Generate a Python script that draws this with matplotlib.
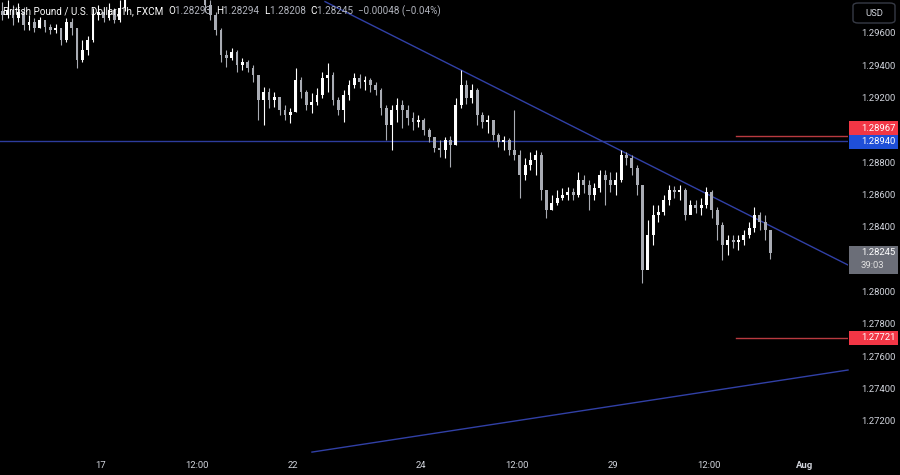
import numpy as np
import matplotlib
matplotlib.use("Agg")
import matplotlib.pyplot as plt
from matplotlib.patches import Rectangle, FancyBboxPatch

# GBPUSD, candles drawn every 2 hours (hours counted from 17 Jul 00:00, weekends removed)
first_open = 1.29740
closes = [1.29717, 1.29748, 1.29699, 1.29736, 1.29655, 1.29674, 1.29637, 1.29686, 1.29643, 1.29624,
          1.29637, 1.29562, 1.29674, 1.29637, 1.29439, 1.29500, 1.29562, 1.29717, 1.29736, 1.29699,
          1.29748, 1.29686, 1.29760, 1.29950, 1.30100, 1.30250, 1.30400, 1.30350, 1.30200, 1.30300,
          1.30150, 1.30050, 1.30000, 1.30100, 1.29950, 1.30000, 1.29900, 1.29950, 1.29779, 1.29717,
          1.29624, 1.29470, 1.29451, 1.29488, 1.29408, 1.29426, 1.29389, 1.29346, 1.29191, 1.29241,
          1.29191, 1.29210, 1.29129, 1.29098, 1.29117, 1.29315, 1.29241, 1.29160, 1.29179, 1.29222,
          1.29327, 1.29346, 1.29191, 1.29129, 1.29222, 1.29284, 1.29327, 1.29302, 1.29315, 1.29284,
          1.29253, 1.29141, 1.29036, 1.29129, 1.29160, 1.29129, 1.29080, 1.29055, 1.29067, 1.29005,
          1.28962, 1.28894, 1.28881, 1.28943, 1.28912, 1.29160, 1.29284, 1.29203, 1.29253, 1.29098,
          1.29055, 1.29067, 1.28974, 1.28931, 1.28943, 1.28881, 1.28851, 1.28727, 1.28789, 1.28820,
          1.28851, 1.28634, 1.28510, 1.28553, 1.28584, 1.28603, 1.28622, 1.28603, 1.28696, 1.28665,
          1.28603, 1.28646, 1.28727, 1.28696, 1.28665, 1.28696, 1.28851, 1.28832, 1.28770, 1.28665,
          1.28139, 1.28355, 1.28479, 1.28498, 1.28572, 1.28634, 1.28622, 1.28634, 1.28479, 1.28541,
          1.28522, 1.28541, 1.28622, 1.28510, 1.28417, 1.28293, 1.28324, 1.28312, 1.28324, 1.28355,
          1.28399, 1.28479, 1.28436, 1.28386, 1.28245]
highs = [1.29798, 1.29810, 1.29779, 1.29791, 1.29767, 1.29717, 1.29699, 1.29705, 1.29674, 1.29661,
         1.29661, 1.29637, 1.29699, 1.29699, 1.29637, 1.29562, 1.29587, 1.29760, 1.29779, 1.29760,
         1.29791, 1.29760, 1.29810, 1.30010, 1.30160, 1.30320, 1.30440, 1.30430, 1.30380, 1.30350,
         1.30320, 1.30180, 1.30090, 1.30140, 1.30120, 1.30060, 1.30030, 1.30000, 1.29870, 1.29810,
         1.29736, 1.29637, 1.29500, 1.29513, 1.29500, 1.29451, 1.29439, 1.29408, 1.29346, 1.29271,
         1.29265, 1.29241, 1.29191, 1.29160, 1.29141, 1.29389, 1.29333, 1.29253, 1.29234, 1.29265,
         1.29364, 1.29420, 1.29364, 1.29210, 1.29253, 1.29315, 1.29358, 1.29352, 1.29340, 1.29327,
         1.29302, 1.29265, 1.29160, 1.29160, 1.29203, 1.29191, 1.29160, 1.29117, 1.29098, 1.29080,
         1.29018, 1.28962, 1.28943, 1.28962, 1.28968, 1.29203, 1.29377, 1.29315, 1.29290, 1.29265,
         1.29117, 1.29098, 1.29067, 1.28987, 1.28968, 1.28956, 1.29129, 1.28881, 1.28832, 1.28869,
         1.28881, 1.28869, 1.28634, 1.28603, 1.28634, 1.28646, 1.28652, 1.28646, 1.28745, 1.28727,
         1.28696, 1.28677, 1.28758, 1.28758, 1.28745, 1.28745, 1.28881, 1.28869, 1.28851, 1.28789,
         1.28665, 1.28448, 1.28541, 1.28541, 1.28603, 1.28665, 1.28659, 1.28665, 1.28646, 1.28572,
         1.28572, 1.28584, 1.28652, 1.28634, 1.28529, 1.28436, 1.28355, 1.28355, 1.28355, 1.28386,
         1.28436, 1.28529, 1.28498, 1.28479, 1.28386]
lows = [1.29686, 1.29699, 1.29655, 1.29674, 1.29624, 1.29624, 1.29612, 1.29637, 1.29612, 1.29600,
        1.29606, 1.29531, 1.29550, 1.29593, 1.29389, 1.29426, 1.29470, 1.29550, 1.29686, 1.29674,
        1.29686, 1.29668, 1.29674, 1.29740, 1.29920, 1.30080, 1.30230, 1.30300, 1.30150, 1.30180,
        1.30100, 1.29990, 1.29950, 1.29980, 1.29900, 1.29920, 1.29860, 1.29850, 1.29736, 1.29686,
        1.29593, 1.29426, 1.29395, 1.29439, 1.29364, 1.29377, 1.29364, 1.29302, 1.29067, 1.29036,
        1.29141, 1.29148, 1.29098, 1.29067, 1.29049, 1.29117, 1.29203, 1.29129, 1.29111, 1.29160,
        1.29203, 1.29241, 1.29160, 1.29098, 1.29055, 1.29191, 1.29265, 1.29265, 1.29253, 1.29241,
        1.29222, 1.29098, 1.28943, 1.28881, 1.29055, 1.29018, 1.29036, 1.29005, 1.29024, 1.28974,
        1.28931, 1.28869, 1.28838, 1.28832, 1.28776, 1.28912, 1.29141, 1.29166, 1.29172, 1.29036,
        1.29018, 1.28987, 1.28943, 1.28900, 1.28881, 1.28851, 1.28820, 1.28584, 1.28696, 1.28758,
        1.28727, 1.28572, 1.28461, 1.28510, 1.28541, 1.28572, 1.28572, 1.28572, 1.28591, 1.28615,
        1.28510, 1.28572, 1.28622, 1.28541, 1.28622, 1.28603, 1.28683, 1.28789, 1.28727, 1.28603,
        1.28058, 1.28188, 1.28293, 1.28436, 1.28479, 1.28541, 1.28584, 1.28572, 1.28448, 1.28498,
        1.28492, 1.28479, 1.28522, 1.28461, 1.28324, 1.28201, 1.28232, 1.28275, 1.28262, 1.28293,
        1.28337, 1.28374, 1.28386, 1.28324, 1.28208]

support_level = 1.28940
red_levels = [1.28967, 1.27721]
last_price = 1.28245
# trendlines (hour, price)
down_trend_t = [84.0, 280.1]
down_trend_p = [1.29800, 1.28170]
up_trend_t = [79.1, 280.1]
up_trend_p = [1.27012, 1.27520]

price_ticks = [1.296, 1.294, 1.292, 1.288, 1.286, 1.284, 1.280, 1.278, 1.276, 1.274, 1.272]
time_ticks = [0, 36, 72, 120, 156, 192, 228, 264]
time_labels = ["17", "12:00", "22", "24", "12:00", "29", "12:00", "Aug"]

bg = "#000000"
txt = "#d1d4dc"
fig = plt.figure(figsize=(9, 4.75), dpi=100, facecolor=bg)
ax = fig.add_axes([0, 20 / 475, 848 / 900, 455 / 475])
ax.set_facecolor(bg)
for s in ax.spines.values():
    s.set_visible(False)
ax.set_xlim(-37.875, 280.1)
ax.set_ylim(1.26994, 1.29810)
ax.set_xticks([])
ax.set_yticks([])

t = np.arange(len(closes)) * 2 - 37
opens = np.array([first_open] + closes[:-1])
c = np.array(closes)
up = c >= opens
cols = np.where(up, "#ffffff", "#a9acb4")
ax.vlines(t, lows, highs, colors=cols, linewidth=0.8, zorder=3)
ax.bar(t, np.where(np.abs(c - opens) < 0.00004, 0.00004, c - opens), bottom=opens,
       width=1.1, color=cols, linewidth=0, zorder=4)

# lines
ax.axhline(support_level, color="#2d3c9c", lw=1, zorder=2)
ax.plot(down_trend_t, down_trend_p, color="#3140a6", lw=1, zorder=2)
ax.plot(up_trend_t, up_trend_p, color="#3140a6", lw=1, zorder=2, clip_on=False)
for lvl in red_levels:
    ax.plot([238.0, 280.1], [lvl, lvl], color="#b83a40", lw=1, zorder=2)

# price axis labels
fig.canvas.draw()
inv = fig.transFigure.inverted()


def ypix(p):
    return ax.transData.transform((0, p))[1]


for p in price_ticks:
    fy = inv.transform((0, ypix(p)))[1]
    fig.text(861 / 900, fy, f"{p:.5f}", color=txt, fontsize=6.8, family="Roboto",
             ha="left", va="center")


def tag(price, label, fc, dy=0.0, h=14, sub=None):
    yc = ypix(price) + dy
    top = yc + h / 2 if sub is None else yc + 7
    bot = yc - h / 2 if sub is None else yc - 21
    x0, y0 = inv.transform((849, bot))
    x1, y1 = inv.transform((898, top))
    fig.patches.append(Rectangle((x0, y0), x1 - x0, y1 - y0, transform=fig.transFigure,
                                 facecolor=fc, edgecolor="none", zorder=5))
    fig.text(861 / 900, inv.transform((0, yc))[1], label, color="#ffffff", fontsize=6.8,
             family="Roboto", ha="left", va="center", zorder=6)
    if sub is not None:
        fig.text(861 / 900, inv.transform((0, yc - 13))[1], sub, color="#e0e0e0", fontsize=6.8,
                 family="Roboto", ha="left", va="center", zorder=6)


tag(red_levels[0], "1.28967", "#f23645", dy=8)
tag(support_level, "1.28940", "#1f4fd8", dy=-1)
tag(red_levels[1], "1.27721", "#f23645")
tag(last_price, "1.28245", "#6b6e78", sub="39:03")

# USD button
bx0, by0 = inv.transform((853, 475 - 23))
bx1, by1 = inv.transform((895, 475 - 3))
fig.patches.append(FancyBboxPatch((bx0, by0), bx1 - bx0, by1 - by0, transform=fig.transFigure,
                                  boxstyle="round,pad=0,rounding_size=0.006",
                                  facecolor=bg, edgecolor="#363a45", lw=1))
fig.text((bx0 + bx1) / 2, (by0 + by1) / 2, "USD", color=txt, fontsize=6.8, family="Roboto",
         ha="center", va="center")

# time axis labels
for tt, lab in zip(time_ticks, time_labels):
    fx = inv.transform((ax.transData.transform((tt, 0))[0], 0))[0]
    fig.text(fx, 10 / 475, lab, color=txt, fontsize=6.8, family="Roboto", ha="center",
             va="center", weight="bold" if lab == "Aug" else "normal")

# header
hy = 1 - 11 / 475
parts = [("British Pound / U.S. Dollar, 1h, FXCM  ", "#ffffff"), ("O", "#ffffff"),
         ("1.28293  ", "#b2b5be"), ("H", "#ffffff"), ("1.28294  ", "#b2b5be"),
         ("L", "#ffffff"), ("1.28208  ", "#b2b5be"), ("C", "#ffffff"),
         ("1.28245  −0.00048 (−0.04%)", "#b2b5be")]
x = 3 / 900
r = fig.canvas.get_renderer()
for s, col in parts:
    tx = fig.text(x, hy, s, color=col, fontsize=7.1, family="Roboto", ha="left", va="center",
                  zorder=7)
    bb = tx.get_window_extent(renderer=r)
    x += bb.width / 900

fig.savefig("out.png", dpi=100, facecolor=bg)
